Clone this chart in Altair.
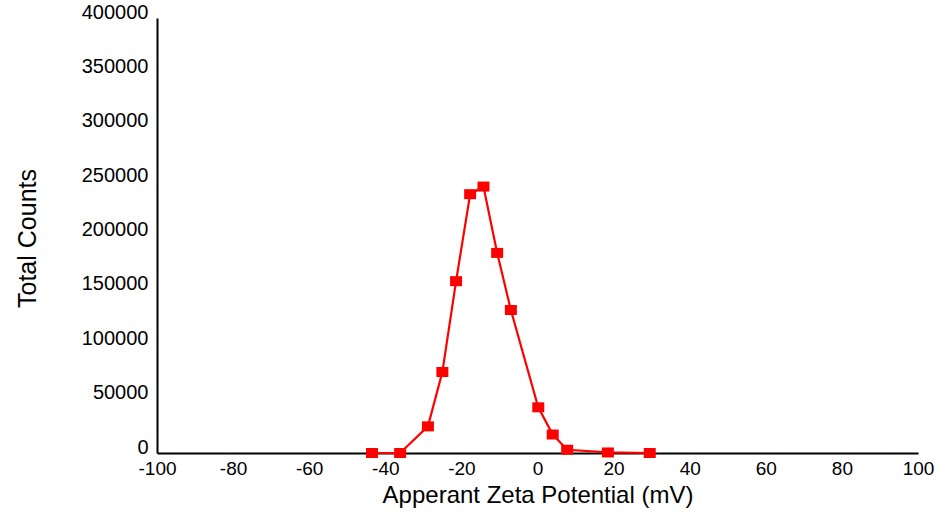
import altair as alt
import pandas as pd

zeta_mv = [-43.5, -36.1, -28.8, -25.0, -21.4, -17.7, -14.2, -10.6, -7.0, 0.2, 4.0, 7.8, 18.5, 29.5]
total_counts = [0, 0, 24500, 74500, 158000, 238000, 245000, 184000, 131500, 42000, 17000, 3000, 500, 0]
x_ticks = list(range(-100, 101, 20))
y_ticks = list(range(0, 400001, 50000))

df = pd.DataFrame({"zeta": zeta_mv, "counts": total_counts})

FONT = "Liberation Sans"

x_enc = alt.X(
    "zeta:Q",
    scale=alt.Scale(domain=[-100, 100], nice=False, zero=False),
    axis=alt.Axis(
        values=x_ticks,
        title="Apperant Zeta Potential (mV)",
        grid=False,
        ticks=False,
        domainColor="black",
        domainWidth=2,
        labelFont=FONT,
        labelFontSize=19,
        labelColor="black",
        labelPadding=6,
        labelFlush=False,
        labelOverlap=False,
        labelExpr="'' + datum.value",
        titleFont=FONT,
        titleFontSize=24,
        titleFontWeight="normal",
        titleColor="black",
        titleBaseline="alphabetic",
        titleY=49,
    ),
)
y_enc = alt.Y(
    "counts:Q",
    scale=alt.Scale(domain=[0, 400000], nice=False),
    axis=alt.Axis(
        values=y_ticks,
        title="Total Counts",
        grid=False,
        ticks=False,
        domainColor="black",
        domainWidth=2,
        labelFont=FONT,
        labelFontSize=20,
        labelColor="black",
        labelPadding=9,
        labelOffset=-6,
        labelFlush=False,
        labelOverlap=False,
        labelExpr="'' + datum.value",
        titleFont=FONT,
        titleFontSize=25,
        titleFontWeight="normal",
        titleColor="black",
        titleAngle=-90,
        titleAlign="center",
        titleBaseline="middle",
        titleX=-130,
        titleY=220,
    ),
)

line = alt.Chart(df).mark_line(color="#ff0000", strokeWidth=2.2).encode(x=x_enc, y=y_enc)
pts = alt.Chart(df).mark_point(
    shape="M-1.2,-1L1.2,-1L1.2,1L-1.2,1Z",
    filled=True,
    color="#ff0000",
    opacity=1,
    size=100,
).encode(x=x_enc, y=y_enc)

chart = (
    alt.layer(line, pts)
    .properties(
        width=761,
        height=435,
        autosize=alt.AutoSizeParams(type="none"),
        padding={"left": 157, "top": 18, "right": 27, "bottom": 60},
        background="white",
    )
    .configure_view(stroke=None)
)

chart.save("out.html", embed_options={"renderer": "svg", "actions": False})
